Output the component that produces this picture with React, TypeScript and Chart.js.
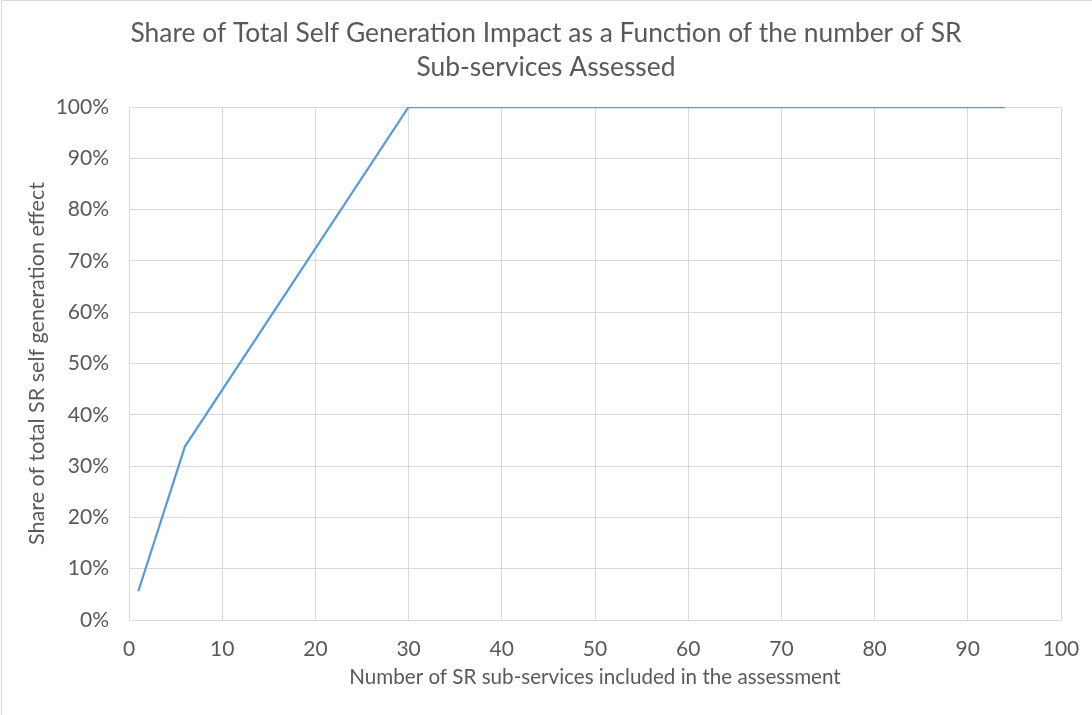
import React, { useEffect, useRef } from "react";
import { Chart, registerables } from "chart.js";

Chart.register(...registerables);

// Number of SR sub-services included vs. cumulative share of the effect (%)
const subServices = [1, 6, 30, 94];
const sharePct = [5.6, 33.8, 100, 100];

const xTicks = [0, 10, 20, 30, 40, 50, 60, 70, 80, 90, 100];
const yTicks = [0, 10, 20, 30, 40, 50, 60, 70, 80, 90, 100];

const titleLines = [
  "Share of Total Self Generation Impact as a Function of the number of SR",
  "Sub-services Assessed",
];
const xTitle = "Number of SR sub-services included in the assessment";
const yTitle = "Share of total SR self generation effect";

const FONT = "Lato, 'Open Sans', sans-serif";
const TEXT = "#595959";
const GRID = "#d9d9d9";

// thin frame along the top and left edges of the chart box
const framePlugin = {
  id: "frame",
  beforeDraw(chart: any) {
    const ctx = chart.ctx;
    ctx.save();
    ctx.fillStyle = "#ffffff";
    ctx.fillRect(0, 0, chart.width, chart.height);
    ctx.strokeStyle = GRID;
    ctx.lineWidth = 1;
    ctx.beginPath();
    ctx.moveTo(1.5, chart.height);
    ctx.lineTo(1.5, 0.5);
    ctx.lineTo(chart.width, 0.5);
    ctx.stroke();
    ctx.restore();
  },
};

export default function App() {
  const canvasRef = useRef<HTMLCanvasElement | null>(null);

  useEffect(() => {
    document.body.style.margin = "0";
    const canvas = canvasRef.current;
    if (!canvas) return;
    const chart = new Chart(canvas, {
      type: "line",
      data: {
        datasets: [
          {
            data: subServices.map((x, i) => ({ x, y: sharePct[i] })),
            borderColor: "#5B9BD5",
            borderWidth: 2.25,
            pointRadius: 0,
            tension: 0,
            fill: false,
          },
        ],
      },
      options: {
        animation: false,
        responsive: false,
        maintainAspectRatio: false,
        layout: { padding: 0 },
        plugins: {
          legend: { display: false },
          tooltip: { enabled: false },
          title: {
            display: true,
            text: titleLines,
            color: TEXT,
            font: { family: FONT, size: 26.4, weight: "normal", lineHeight: 34 / 26.4 },
            padding: { top: 16, bottom: 23 },
          },
        },
        scales: {
          x: {
            type: "linear",
            min: 0,
            max: 100,
            afterBuildTicks: (scale: any) => {
              scale.ticks = xTicks.map((v) => ({ value: v }));
            },
            afterFit: (scale: any) => {
              scale.height = 715 - 620;
              scale.paddingLeft = 0;
              scale.paddingRight = 1092 - 1061;
            },
            grid: { color: GRID, lineWidth: 1, drawTicks: false },
            border: { display: true, color: GRID },
            ticks: {
              color: TEXT,
              padding: 17,
              maxRotation: 0,
              font: { family: FONT, size: 21 },
            },
            title: {
              display: true,
              text: xTitle,
              color: TEXT,
              font: { family: FONT, size: 20.6 },
              padding: { top: 4, bottom: 25 },
            },
          },
          y: {
            type: "linear",
            min: 0,
            max: 100,
            afterBuildTicks: (scale: any) => {
              scale.ticks = yTicks.map((v) => ({ value: v }));
            },
            afterFit: (scale: any) => {
              scale.width = 129;
            },
            grid: { color: GRID, lineWidth: 1, drawTicks: false },
            border: { display: true, color: GRID },
            ticks: {
              color: TEXT,
              padding: 20,
              font: { family: FONT, size: 21 },
              callback: (v: any) => `${v}%`,
            },
            title: {
              display: true,
              text: yTitle,
              color: TEXT,
              font: { family: FONT, size: 21.5 },
              padding: { top: 24, bottom: 0 },
            },
          },
        },
      },
      plugins: [framePlugin],
    });
    return () => chart.destroy();
  }, []);

  return (
    <div style={{ position: "relative", width: 1092, height: 715 }}>
      <canvas ref={canvasRef} width={1092} height={715} style={{ display: "block" }} />
    </div>
  );
}
